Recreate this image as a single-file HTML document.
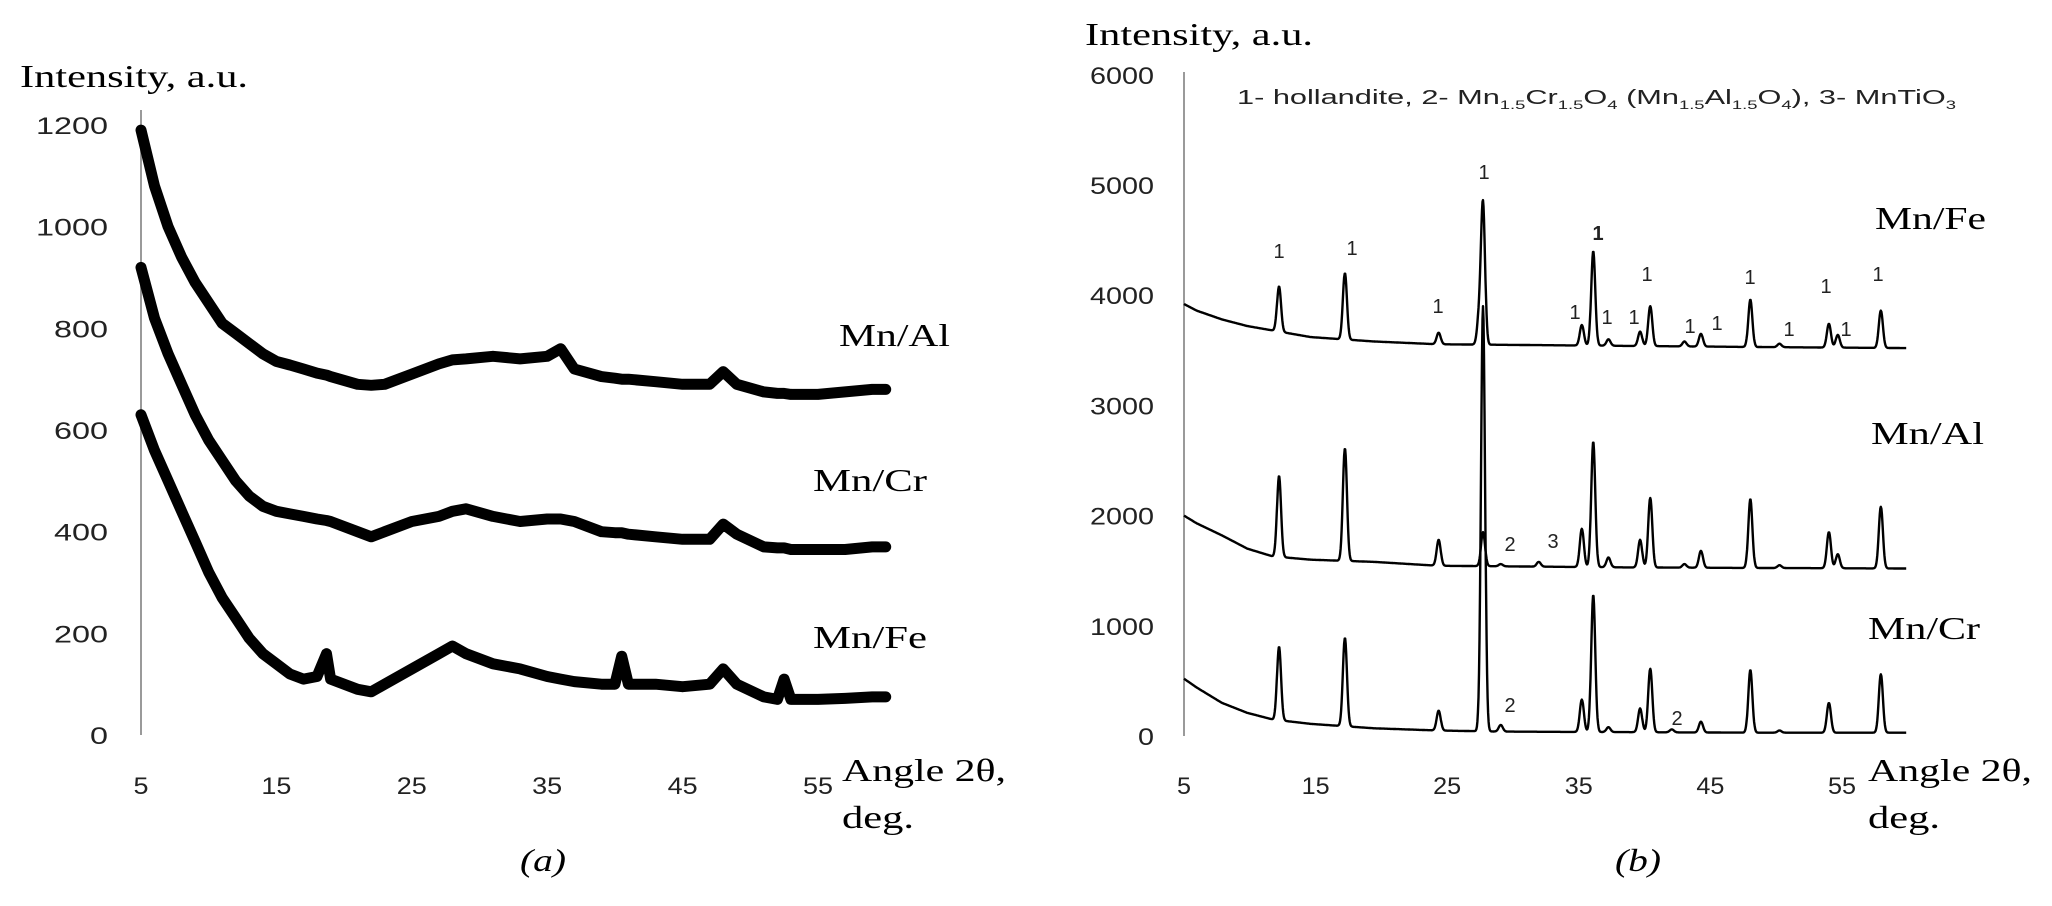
<!DOCTYPE html>
<html><head><meta charset="utf-8">
<style>
html,body{margin:0;padding:0;background:#fff;}
svg{display:block;}
.serif{font-family:"Liberation Serif",serif;fill:#000;}
.sans{font-family:"Liberation Sans",sans-serif;fill:#222;}
</style></head>
<body>
<svg id="chart" width="2052" height="906" viewBox="0 0 2052 906" xmlns="http://www.w3.org/2000/svg">
<g id="left"></g>
<g id="right"></g>
<g class="serif" font-size="32">
 <text x="20" y="87" textLength="228" lengthAdjust="spacingAndGlyphs">Intensity, a.u.</text>
 <text x="842" y="781" textLength="164" lengthAdjust="spacingAndGlyphs">Angle 2θ,</text>
 <text x="842" y="828" textLength="72" lengthAdjust="spacingAndGlyphs">deg.</text>
 <text x="520" y="871" font-style="italic" textLength="46" lengthAdjust="spacingAndGlyphs">(a)</text>
 <text x="839" y="346" textLength="111" lengthAdjust="spacingAndGlyphs">Mn/Al</text>
 <text x="813" y="491" textLength="114" lengthAdjust="spacingAndGlyphs">Mn/Cr</text>
 <text x="813" y="648" textLength="114" lengthAdjust="spacingAndGlyphs">Mn/Fe</text>
 <text x="1085" y="45" textLength="228" lengthAdjust="spacingAndGlyphs">Intensity, a.u.</text>
 <text x="1868" y="781" textLength="164" lengthAdjust="spacingAndGlyphs">Angle 2θ,</text>
 <text x="1868" y="828" textLength="72" lengthAdjust="spacingAndGlyphs">deg.</text>
 <text x="1615" y="871" font-style="italic" textLength="46" lengthAdjust="spacingAndGlyphs">(b)</text>
 <text x="1875" y="229" textLength="111" lengthAdjust="spacingAndGlyphs">Mn/Fe</text>
 <text x="1871" y="444" textLength="113" lengthAdjust="spacingAndGlyphs">Mn/Al</text>
 <text x="1868" y="639" textLength="112" lengthAdjust="spacingAndGlyphs">Mn/Cr</text>
</g>
<text x="1237" y="104" class="sans" font-size="20" textLength="719" lengthAdjust="spacingAndGlyphs">1- hollandite, 2- Mn<tspan font-size="12" dy="5">1.5</tspan><tspan dy="-5">Cr</tspan><tspan font-size="12" dy="5">1.5</tspan><tspan dy="-5">O</tspan><tspan font-size="12" dy="5">4</tspan><tspan dy="-5"> (Mn</tspan><tspan font-size="12" dy="5">1.5</tspan><tspan dy="-5">Al</tspan><tspan font-size="12" dy="5">1.5</tspan><tspan dy="-5">O</tspan><tspan font-size="12" dy="5">4</tspan><tspan dy="-5">), 3- MnTiO</tspan><tspan font-size="12" dy="5">3</tspan></text>
<g class="sans" font-size="20" text-anchor="middle" fill="#222">
 <text x="1279" y="258">1</text><text x="1352" y="255">1</text><text x="1438" y="313">1</text>
 <text x="1484" y="179">1</text><text x="1598" y="240" font-weight="bold">1</text><text x="1647" y="281">1</text>
 <text x="1575" y="319">1</text><text x="1607" y="324">1</text><text x="1634" y="324">1</text>
 <text x="1690" y="333">1</text><text x="1717" y="330">1</text><text x="1750" y="284">1</text>
 <text x="1789" y="336">1</text><text x="1826" y="293">1</text><text x="1846" y="336">1</text>
 <text x="1878" y="281">1</text>
 <text x="1510" y="551">2</text><text x="1553" y="548">3</text>
 <text x="1510" y="712">2</text><text x="1677" y="725">2</text>
</g>
</svg>
<script>
// ---------- Panel (a) data ----------
const aTicksY = [0,200,400,600,800,1000,1200];
const aTicksX = [5,15,25,35,45,55];
const aAngles = [5,6,7,8,9,10,11,12,13,14,15,16,17,18,18.7,19,21,22,23,25,27,28,29,31,33,35,36,37,39,40,40.5,41,43,45,47,48,49,51,52,52.5,53,55,57,59,60];
const aMnAl = [1190,1080,1000,940,890,850,810,790,770,750,735,728,720,712,708,705,690,688,690,710,730,738,740,745,740,745,760,720,705,702,700,700,695,690,690,715,690,675,672,672,670,670,675,680,680];
const aMnCr = [920,820,750,690,630,580,540,500,470,450,440,435,430,425,422,420,400,390,400,420,430,440,445,430,420,425,425,420,400,398,398,395,390,385,385,415,395,370,368,368,365,365,365,370,370];
const aMnFe = [630,560,500,440,380,320,270,230,190,160,140,120,110,115,160,110,90,85,100,130,160,175,160,140,130,115,110,105,100,100,155,100,100,95,100,130,100,75,70,110,70,70,72,75,75];

// ---------- Panel (b) data ----------
const bTicksY = [0,1000,2000,3000,4000,5000,6000];
const bTicksX = [5,15,25,35,45,55];
const bBaseAngles = [5,6,8,10,12,15,20,25,30,40,50,62];
const bFeBase = [3920,3860,3780,3720,3680,3620,3580,3555,3550,3540,3530,3520];
const bAlBase = [2000,1930,1820,1700,1630,1600,1580,1545,1540,1530,1525,1520];
const bCrBase = [520,440,300,210,150,110,70,50,40,35,30,30];
const bFePeakPos = [12.5,17.7,25.1,28.3,28.6,36.4,37.3,38.5,41.0,41.8,44.5,45.8,49.7,52.0,55.9,56.6,60.0];
const bFePeakVal = [4080,4200,3660,3800,4820,3730,4400,3600,3670,3900,3580,3650,3960,3560,3740,3640,3860];
const bAlPeakPos = [12.5,17.7,25.1,28.6,30,33,36.4,37.3,38.5,41.0,41.8,44.5,45.8,49.7,52.0,55.9,56.6,60.0];
const bAlPeakVal = [2360,2610,1780,1850,1560,1580,1880,2670,1620,1780,2160,1560,1680,2150,1550,1850,1650,2080];
const bCrPeakPos = [12.5,17.7,25.1,28.6,30.0,36.4,37.3,38.5,41.0,41.8,43.5,45.8,49.7,52.0,55.9,60.0];
const bCrPeakVal = [810,890,230,3900,100,330,1280,80,250,610,60,130,600,50,300,560];

const NS = "http://www.w3.org/2000/svg";
function mk(parent, tag, attrs, text){
  const e = document.createElementNS(NS, tag);
  for (const k in attrs) e.setAttribute(k, attrs[k]);
  if (text !== undefined) e.textContent = text;
  parent.appendChild(e);
  return e;
}
const aX = d => 141 + (d-5)*13.54;
const aY = v => 735 - v*0.5083;
const bX = d => 1184 + (d-5)*12.67;
const bY = v => 736 - v*0.1102;
const bTickX = d => 1184 + (d-5)*13.16;

const L = document.getElementById('left');
const R = document.getElementById('right');

let ax = mk(L,'line',{x1:141,y1:110,x2:141,y2:735,stroke:'#9a9a9a','stroke-width':2});


aTicksY.forEach(v=>{
  const s=String(v);
  const t = mk(L,'text',{x:108,y:aY(v)+9,'text-anchor':'end','font-size':24,class:'sans',textLength:s.length*18,lengthAdjust:'spacingAndGlyphs'},s);
  
  
});
aTicksX.forEach(v=>{
  const s=String(v);
  const t = mk(L,'text',{x:aX(v),y:794,'text-anchor':'middle','font-size':24,class:'sans',textLength:s.length*15,lengthAdjust:'spacingAndGlyphs'},s);
  
  
});
function thickLine(parent, xs, ys, xf, yf, name, w){
  const pts = xs.map((d,i)=>xf(d).toFixed(1)+','+yf(ys[i]).toFixed(1)).join(' ');
  const p = mk(parent,'polyline',{points:pts,fill:'none',stroke:'#000','stroke-width':w,'stroke-linejoin':'round','stroke-linecap':'round'});
  
  
}
thickLine(L,aAngles,aMnAl,aX,aY,'series-mn-al-a',11);
thickLine(L,aAngles,aMnCr,aX,aY,'series-mn-cr-a',11);
thickLine(L,aAngles,aMnFe,aX,aY,'series-mn-fe-a',11);

ax = mk(R,'line',{x1:1184,y1:72,x2:1184,y2:736,stroke:'#9a9a9a','stroke-width':2});


bTicksY.forEach(v=>{
  const s=String(v);
  const t = mk(R,'text',{x:1154,y:bY(v)+9,'text-anchor':'end','font-size':24,class:'sans',textLength:s.length*16,lengthAdjust:'spacingAndGlyphs'},s);
  
  
});
bTicksX.forEach(v=>{
  const s=String(v);
  const t = mk(R,'text',{x:bTickX(v),y:794,'text-anchor':'middle','font-size':24,class:'sans',textLength:s.length*14,lengthAdjust:'spacingAndGlyphs'},s);
  
  
});
function interp(xs, ys, d){
  if (d<=xs[0]) return ys[0];
  for (let i=1;i<xs.length;i++){ if (d<=xs[i]){ const f=(d-xs[i-1])/(xs[i]-xs[i-1]); return ys[i-1]+f*(ys[i]-ys[i-1]); } }
  return ys[ys.length-1];
}
function pattern(parent, base, pp, pv, name){
  const pts=[];
  for (let d=5; d<=62.001; d+=0.04){
    const b = interp(bBaseAngles, base, d);
    let v = b;
    pp.forEach((p,i)=>{ const h = pv[i]-interp(bBaseAngles, base, p); const s=0.16; v += h*Math.exp(-((d-p)*(d-p))/(2*s*s)); });
    pts.push(bX(d).toFixed(1)+','+bY(v).toFixed(1));
  }
  const p = mk(parent,'polyline',{points:pts.join(' '),fill:'none',stroke:'#000','stroke-width':2.4,'stroke-linejoin':'round'});
  
  
}
pattern(R,bCrBase,bCrPeakPos,bCrPeakVal,'series-mn-cr-b');
pattern(R,bAlBase,bAlPeakPos,bAlPeakVal,'series-mn-al-b');
pattern(R,bFeBase,bFePeakPos,bFePeakVal,'series-mn-fe-b');
</script>
</body></html>
